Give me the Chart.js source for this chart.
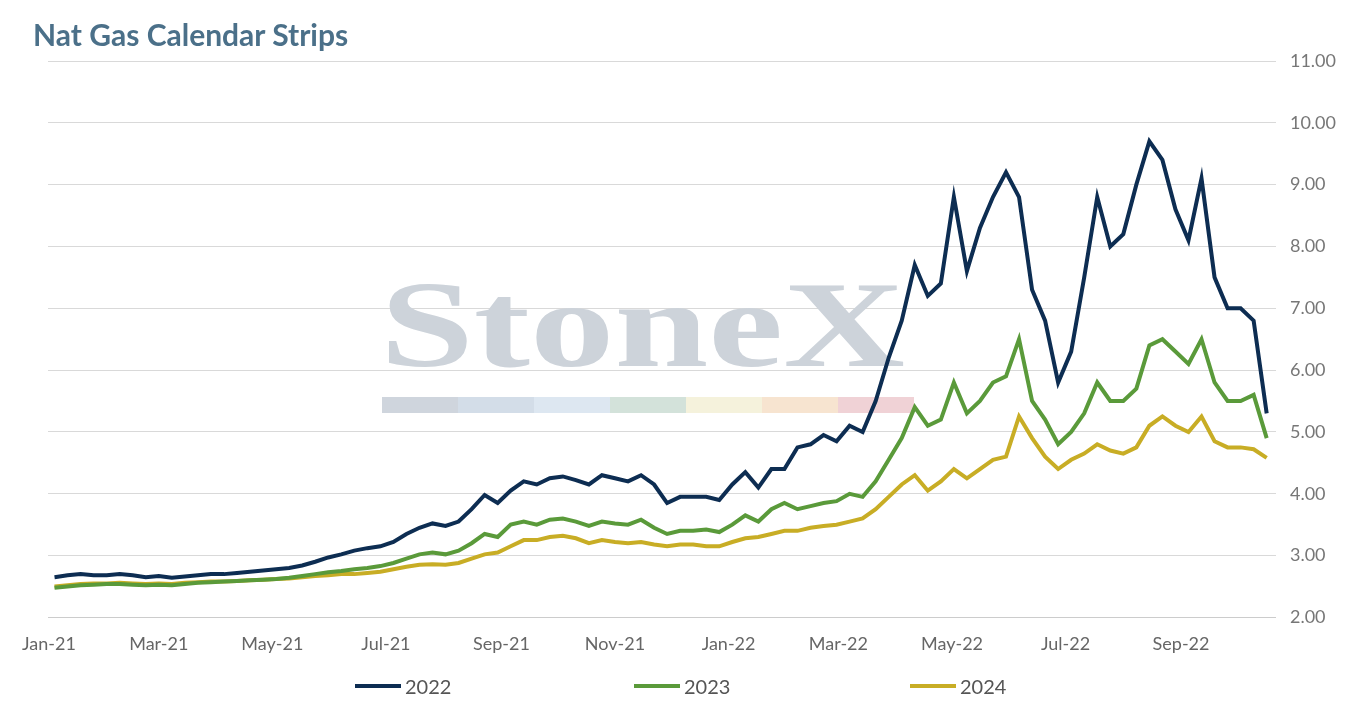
<!DOCTYPE html>
<html>
<head>
<meta charset="utf-8">
<script src="https://cdn.jsdelivr.net/npm/chart.js@4"></script>
<style>
  body { margin: 0; background: #fff; }
  #wrap { position: relative; width: 1354px; height: 707px; }
  #title { position: absolute; left: 33px; top: 16px; font: bold 30px Lato, sans-serif; color: #4b7089; }
  #legend { position: absolute; top: 674px; left: 0; width: 1354px; font: 20px Lato, sans-serif; color: #555; }
  #legend span { position: absolute; display: flex; align-items: center; }
  #legend i { display: inline-block; width: 46px; height: 4px; margin-right: 4px; }
</style>
</head>
<body>
<div id="wrap">
  <div id="title">Nat Gas Calendar Strips</div>
  <canvas id="c" width="1354" height="707"></canvas>
  <div id="legend"></div>
</div>
<script>
// weekly closes from the week of 4 Jan 2021
const startDate = new Date(2021, 0, 1);
const strip2022 = [2.65,2.68,2.70,2.68,2.68,2.70,2.68,2.65,2.67,2.64,2.66,2.68,2.70,2.70,2.72,2.74,2.76,2.78,2.80,2.84,
  2.90,2.97,3.02,3.08,3.12,3.15,3.22,3.35,3.45,3.52,3.48,3.55,3.75,3.98,3.85,4.05,4.20,4.15,4.25,4.28,
  4.22,4.15,4.30,4.25,4.20,4.30,4.15,3.85,3.95,3.95,3.95,3.90,4.15,4.35,4.10,4.40,4.40,4.75,4.80,4.95,
  4.85,5.10,5.00,5.50,6.20,6.80,7.70,7.20,7.40,8.80,7.60,8.30,8.80,9.20,8.80,7.30,6.80,5.80,6.30,7.50,
  8.80,8.00,8.20,9.00,9.70,9.40,8.60,8.10,9.10,7.50,7.00,7.00,6.80,5.30];
const strip2023 = [2.48,2.50,2.52,2.53,2.54,2.54,2.53,2.52,2.53,2.52,2.54,2.56,2.57,2.58,2.59,2.60,2.61,2.62,2.64,2.67,
  2.70,2.73,2.75,2.78,2.80,2.83,2.88,2.95,3.02,3.05,3.02,3.08,3.20,3.35,3.30,3.50,3.55,3.50,3.58,3.60,
  3.55,3.48,3.55,3.52,3.50,3.58,3.45,3.35,3.40,3.40,3.42,3.38,3.50,3.65,3.55,3.75,3.85,3.75,3.80,3.85,
  3.88,4.00,3.95,4.20,4.55,4.90,5.40,5.10,5.20,5.80,5.30,5.50,5.80,5.90,6.50,5.50,5.20,4.80,5.00,5.30,
  5.80,5.50,5.50,5.70,6.40,6.50,6.30,6.10,6.50,5.80,5.50,5.50,5.60,4.90];
const strip2024 = [2.50,2.52,2.54,2.55,2.55,2.56,2.55,2.54,2.55,2.54,2.56,2.57,2.58,2.58,2.59,2.60,2.61,2.62,2.63,2.65,
  2.67,2.68,2.70,2.70,2.72,2.74,2.78,2.82,2.85,2.86,2.85,2.88,2.95,3.02,3.05,3.15,3.25,3.25,3.30,3.32,
  3.28,3.20,3.25,3.22,3.20,3.22,3.18,3.15,3.18,3.18,3.15,3.15,3.22,3.28,3.30,3.35,3.40,3.40,3.45,3.48,
  3.50,3.55,3.60,3.75,3.95,4.15,4.30,4.05,4.20,4.40,4.25,4.40,4.55,4.60,5.25,4.90,4.60,4.40,4.55,4.65,
  4.80,4.70,4.65,4.75,5.10,5.25,5.10,5.00,5.25,4.85,4.75,4.75,4.72,4.58];
const tickLabels = ['Jan-21','Mar-21','May-21','Jul-21','Sep-21','Nov-21','Jan-22','Mar-22','May-22','Jul-22','Sep-22'];

const DAY = 86400000;
const tickDays = tickLabels.map((l, k) => (new Date(2021, k * 2, 1) - startDate) / DAY);
const pts = arr => arr.map((v, i) => ({ x: 7 * i + 3, y: v }));

const watermark = {
  id: 'watermark',
  beforeDatasetsDraw(chart) {
    const ctx = chart.ctx;
    ctx.save();
    ctx.fillStyle = '#cdd3da';
    ctx.font = 'bold 122px "Liberation Serif", serif';
    const w = ctx.measureText('StoneX').width;
    ctx.translate(380, 366);
    ctx.scale(525 / w, 1);
    ctx.fillText('StoneX', 0, 0);
    ctx.restore();
    const cols = ['#cfd5dd', '#d3dde8', '#dde7f1', '#d3e2da', '#f5f2dc', '#f7e4d0', '#f0d2d6'];
    cols.forEach((c, k) => { ctx.fillStyle = c; ctx.fillRect(382 + k * 76, 397, 76, 16); });
  }
};

const ds = (label, data, color) => ({ label, data: pts(data), borderColor: color, backgroundColor: color,
  borderWidth: 4, pointRadius: 0, tension: 0 });

const chart = new Chart(document.getElementById('c'), {
  type: 'line',
  data: { datasets: [ds('2022', strip2022, '#0d2d52'), ds('2023', strip2023, '#5a9a3a'), ds('2024', strip2024, '#c8ad25')] },
  options: {
    responsive: false,
    animation: false,
    layout: { padding: { top: 61, left: 48, right: 4, bottom: 44 } },
    plugins: { legend: { display: false }, tooltip: { enabled: false } },
    scales: {
      x: {
        type: 'linear', min: -0.5, max: 659,
        afterBuildTicks: ax => { ax.ticks = tickDays.map(v => ({ value: v })); },
        ticks: { callback: (v, i) => tickLabels[i], font: { family: 'Lato', size: 18 }, color: '#666', maxRotation: 0, padding: 8 },
        grid: { display: false },
        border: { color: '#ccc' }
      },
      y: {
        position: 'right', min: 2, max: 11,
        ticks: { stepSize: 1, callback: v => v.toFixed(2), font: { family: 'Lato', size: 18 }, color: '#777', padding: 14 },
        grid: { color: '#d9d9d9', drawTicks: false },
        border: { display: false }
      }
    }
  },
  plugins: [watermark]
});

const legendX = [355, 634, 910];
chart.data.datasets.forEach((d, k) => {
  const s = document.createElement('span');
  s.style.left = legendX[k] + 'px';
  s.innerHTML = `<i style="background:${d.borderColor}"></i>${d.label}`;
  document.getElementById('legend').appendChild(s);
});
</script>
</body>
</html>
